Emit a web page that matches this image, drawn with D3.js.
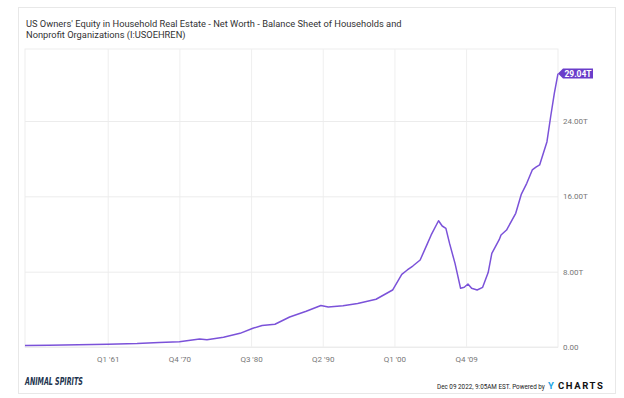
<!DOCTYPE html>
<html>
<head>
<meta charset="utf-8">
<script src="https://cdn.jsdelivr.net/npm/d3@7"></script>
<style>
body { margin: 0; background: #fff; }
text { font-family: Roboto, "Noto Sans", sans-serif; }
</style>
</head>
<body>
<svg width="624" height="398"></svg>
<script>
// quarter dates as decimal years, values in trillions of dollars
var years = [1949.75, 1953, 1957, 1961, 1965, 1968, 1970.75, 1972, 1973.5, 1974.5,
    1976.75, 1979, 1980.75, 1982, 1983.75, 1985.75, 1988, 1990, 1991, 1993,
    1995, 1997.5, 1999.75, 2001, 2001.75, 2002.5, 2003.5, 2004.5, 2005, 2006,
    2006.5, 2007, 2007.5, 2008.25, 2009, 2009.5, 2010, 2010.5, 2011.25, 2012,
    2012.75, 2013.25, 2014.25, 2014.5, 2015.25, 2016.5, 2017.25, 2018, 2018.75, 2019.25,
    2019.75, 2020.75, 2021.25, 2021.75, 2022.25];
var equity = [0.15, 0.18, 0.24, 0.3, 0.37, 0.48, 0.57, 0.69, 0.86, 0.78,
    1.03, 1.45, 1.99, 2.28, 2.42, 3.19, 3.79, 4.41, 4.25, 4.39,
    4.62, 5.07, 6.05, 7.72, 8.18, 8.6, 9.24, 11.0, 11.9, 13.41,
    12.85, 12.6, 11.0, 8.85, 6.23, 6.34, 6.69, 6.23, 6.05, 6.34,
    7.9, 9.95, 11.4, 11.9, 12.42, 14.2, 16.2, 17.38, 18.8, 19.1,
    19.33, 21.8, 24.45, 26.94, 29.04];

var xTickYears = [1961, 1970.75, 1980.5, 1990.25, 2000, 2009.75];
var xTickLabels = ["Q1 '61", "Q4 '70", "Q3 '80", "Q2 '90", "Q1 '00", "Q4 '09"];
var yTicks = [0, 8, 16, 24];
var yTickLabels = ["0.00", "8.00T", "16.00T", "24.00T"];
var lastLabel = "29.04T";

var svg = d3.select('svg');
var padding = { t: 49, r: 66, b: 51, l: 25 };
var svgWidth = +svg.attr('width');
var svgHeight = +svg.attr('height');
var chartWidth = svgWidth - padding.l - padding.r;
var chartHeight = svgHeight - padding.t - padding.b;

// card
svg.append('rect')
    .attr('x', 18.5).attr('y', 7.5)
    .attr('width', 597).attr('height', 386)
    .attr('fill', '#fff')
    .attr('stroke', '#e8e8e8');

// title
var title = svg.append('text')
    .attr('x', 26).attr('y', 26.5)
    .attr('fill', '#333')
    .style('font-size', '9.3px');
title.append('tspan').attr('x', 26)
    .text("US Owners' Equity in Household Real Estate - Net Worth - Balance Sheet of Households and");
title.append('tspan').attr('x', 26).attr('dy', 11.5)
    .text("Nonprofit Organizations (I:USOEHREN)");

var xScale = d3.scaleLinear()
    .domain([years[0], years[years.length - 1]])
    .range([0, chartWidth]);
var yScale = d3.scaleLinear().domain([0, 24]).range([chartHeight, chartHeight - 226]);

var chartG = svg.append('g')
    .attr('transform', `translate(${padding.l}, ${padding.t})`);

// frame
chartG.append('rect')
    .attr('x', 0).attr('y', 0)
    .attr('width', chartWidth).attr('height', chartHeight)
    .attr('fill', 'none')
    .attr('stroke', '#ededed');

// x axis with vertical gridlines
var xAxis = d3.axisBottom(xScale)
    .tickValues(xTickYears)
    .tickSize(-chartHeight)
    .tickPadding(9)
    .tickFormat(function (d, i) { return xTickLabels[i]; });
var xG = chartG.append('g')
    .attr('transform', `translate(0, ${chartHeight})`)
    .call(xAxis);
xG.select('.domain').remove();
xG.selectAll('line').attr('stroke', '#efefef');
xG.selectAll('text').attr('fill', '#777').style('font-size', '8px');

// y axis on the right with horizontal gridlines
var yAxis = d3.axisRight(yScale)
    .tickValues(yTicks)
    .tickSize(-chartWidth)
    .tickPadding(5)
    .tickFormat(function (d, i) { return yTickLabels[i]; });
var yG = chartG.append('g')
    .attr('transform', `translate(${chartWidth}, 0)`)
    .call(yAxis);
yG.select('.domain').remove();
yG.selectAll('line').attr('stroke', '#ececec');
yG.selectAll('text').attr('fill', '#777').style('font-size', '8px');

// series line
var line = d3.line()
    .x(function (d, i) { return xScale(years[i]); })
    .y(function (d) { return yScale(d); });
chartG.append('path')
    .datum(equity)
    .attr('d', line)
    .attr('fill', 'none')
    .attr('stroke', '#7b52d9')
    .attr('stroke-width', 1.5)
    .attr('stroke-linejoin', 'round');

// last value tag
var lx = xScale(years[years.length - 1]);
var ly = yScale(equity[equity.length - 1]);
chartG.append('path')
    .attr('d', `M${lx},${ly} L${lx + 5},${ly - 5} L${lx + 35},${ly - 5} L${lx + 35},${ly + 5} L${lx + 5},${ly + 5} Z`)
    .attr('fill', '#6a3dca');
chartG.append('text')
    .attr('x', lx + 20).attr('y', ly + 3)
    .attr('text-anchor', 'middle')
    .attr('fill', '#fff')
    .style('font-size', '8.5px')
    .style('font-weight', 'bold')
    .text(lastLabel);

// squeeze a text horizontally so it spans the given width
function fitText(sel, x, y, width) {
    var w = sel.node().getComputedTextLength();
    sel.attr('transform', `translate(${x}, ${y}) scale(${width / w}, 1)`);
}

// footer
var logo = svg.append('text')
    .attr('fill', '#22344e')
    .style('font-family', '"DejaVu Sans Condensed", sans-serif')
    .style('font-size', '11px')
    .style('font-weight', 'bold')
    .style('font-style', 'italic')
    .text('ANIMAL SPIRITS');
fitText(logo, 25, 385, 58);

var stamp = svg.append('text')
    .attr('fill', '#222')
    .style('font-size', '8px')
    .text('Dec 09 2022, 9:05AM EST. Powered by');
fitText(stamp, 437, 389, 108);

svg.append('text')
    .attr('x', 548).attr('y', 389)
    .attr('fill', '#22a5e6')
    .style('font-size', '9.5px')
    .style('font-weight', 'bold')
    .text('Y');
svg.append('text')
    .attr('x', 558).attr('y', 389)
    .attr('fill', '#111')
    .style('font-size', '9.5px')
    .style('font-weight', 'bold')
    .style('letter-spacing', '1.6px')
    .text('CHARTS');
</script>
</body>
</html>
